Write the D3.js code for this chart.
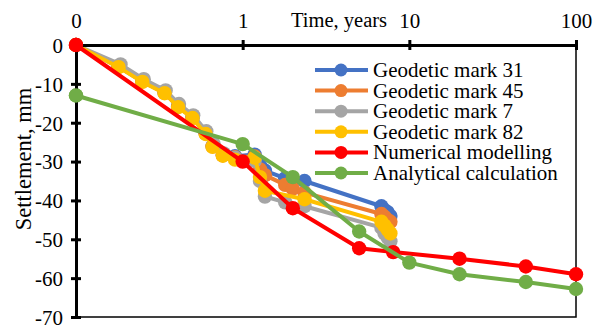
<!DOCTYPE html>
<html>
<head>
<meta charset="utf-8">
<script src="https://cdn.jsdelivr.net/npm/d3@7"></script>
<style>
  body { margin: 0; background: #fff; }
  svg { display: block; }
  svg text { font-family: "Liberation Serif", "Times New Roman", serif !important; fill: #000; }
</style>
</head>
<body>
<svg id="chart" width="598" height="327"></svg>
<script>
// Axis ticks
const xTicks = [0.1, 1, 10, 100];
const xTickLabels = ["0", "1", "10", "100"];
const yTicks = [0, -10, -20, -30, -40, -50, -60, -70];

// Geodetic mark 31
const mark31Time = [0.1, 0.18, 0.25, 0.34, 0.41, 0.5, 0.6, 0.66, 0.76, 0.9, 1.18, 1.27, 1.36, 1.8, 2.0, 2.35, 6.8, 7.1, 7.4, 7.7];
const mark31Value = [0, -5.5, -9.3, -12.2, -15.8, -18.6, -22.7, -26, -28.3, -28.6, -28.2, -31, -32.3, -34.3, -34.8, -35, -41.5, -42.5, -43, -44];
// Geodetic mark 45
const mark45Time = [0.1, 0.18, 0.25, 0.34, 0.41, 0.5, 0.6, 0.66, 0.76, 0.9, 1.18, 1.27, 1.36, 1.8, 2.0, 2.35, 6.8, 7.1, 7.4, 7.7];
const mark45Value = [0, -5.6, -9.4, -12.3, -15.9, -18.7, -22.8, -26.1, -28.4, -28.9, -28.7, -32, -33.5, -36, -37, -38, -43.5, -44.2, -45, -45.5];
// Geodetic mark 7
const mark7Time = [0.1, 0.185, 0.255, 0.345, 0.415, 0.505, 0.605, 0.67, 0.77, 0.9, 1.18, 1.27, 1.36, 1.8, 2.35, 6.8, 7.1, 7.4, 7.7];
const mark7Value = [0, -5.0, -8.8, -11.7, -15.2, -18.1, -22.2, -25.5, -27.9, -29, -29.8, -35, -39, -40.5, -41.5, -47, -48.5, -49.5, -50.5];
// Geodetic mark 82
const mark82Time = [0.1, 0.18, 0.25, 0.34, 0.41, 0.5, 0.6, 0.66, 0.76, 0.9, 1.18, 1.27, 1.36, 2.35, 6.8, 7.1, 7.4, 7.7];
const mark82Value = [0, -5.7, -9.5, -12.4, -16, -18.8, -22.9, -26.2, -28.5, -29.5, -29, -34, -37.5, -39.7, -45.5, -46.5, -47.5, -48.5];
// Numerical modelling
const numericalTime = [0.1, 1, 2, 5, 8, 20, 50, 100];
const numericalValue = [0, -30, -42, -52.3, -53.3, -55, -57, -59];
// Analytical calculation
const analyticalTime = [0.1, 1, 2, 5, 10, 20, 50, 100];
const analyticalValue = [-13, -25.5, -34, -48, -56, -59, -61, -62.8];

const seriesNames = ["Geodetic mark 31", "Geodetic mark 45", "Geodetic mark 7", "Geodetic mark 82", "Numerical modelling", "Analytical calculation"];
const seriesColors = ["#4472C4", "#ED7D31", "#A5A5A5", "#FFC000", "#FF0000", "#70AD47"];
const seriesTimes = [mark31Time, mark45Time, mark7Time, mark82Time, numericalTime, analyticalTime];
const seriesValues = [mark31Value, mark45Value, mark7Value, mark82Value, numericalValue, analyticalValue];

const series = seriesNames.map((name, i) => ({
  name,
  color: seriesColors[i],
  points: seriesTimes[i].map((t, j) => ({ t, v: seriesValues[i][j] }))
}));

const serif = '"Liberation Serif", "Times New Roman", serif';
const labelSize = "21px";
const svg = d3.select("#chart");
const plotLeft = 76, plotRight = 576, plotTop = 45, plotBottom = 317;

const x = d3.scaleLog().domain([0.1, 100]).range([plotLeft, plotRight]);
const y = d3.scaleLinear().domain([0, -70]).range([plotTop, plotBottom]);

// Plot-area frame (right and bottom edges remain visible)
svg.append("rect")
  .attr("x", plotLeft).attr("y", plotTop)
  .attr("width", plotRight - plotLeft).attr("height", plotBottom - plotTop)
  .attr("fill", "none").attr("stroke", "#000").attr("stroke-width", 1.5);

// Lines and markers
const line = d3.line().x(d => x(d.t)).y(d => y(d.v));
const g = svg.append("g");
series.forEach(s => {
  const sg = g.append("g");
  sg.append("path")
    .datum(s.points)
    .attr("d", line)
    .attr("fill", "none")
    .attr("stroke", s.color)
    .attr("stroke-width", 4)
    .attr("stroke-linejoin", "round");
  sg.selectAll("circle")
    .data(s.points)
    .join("circle")
    .attr("cx", d => x(d.t))
    .attr("cy", d => y(d.v))
    .attr("r", 7.2)
    .attr("fill", s.color);
});

// Top time axis with crossing ticks
const xAxis = svg.append("g")
  .attr("transform", `translate(0,${plotTop})`)
  .call(d3.axisTop(x).tickValues(xTicks).tickFormat((d, i) => xTickLabels[i]).tickSizeOuter(0));
xAxis.attr("font-family", serif).attr("font-size", 21);
xAxis.select(".domain").attr("stroke", "#000").attr("stroke-width", 3);
xAxis.selectAll(".tick line").attr("y1", 5).attr("y2", -5).attr("stroke", "#000").attr("stroke-width", 3);
xAxis.selectAll(".tick text").attr("y", -17).attr("dy", 0)
  .style("font-family", serif).style("font-size", labelSize);

// Left settlement axis with crossing ticks
const yAxis = svg.append("g")
  .attr("transform", `translate(${plotLeft},0)`)
  .call(d3.axisLeft(y).tickValues(yTicks).tickFormat(d3.format("d")).tickSizeOuter(0));
yAxis.attr("font-family", serif).attr("font-size", 21);
yAxis.select(".domain").attr("stroke", "#000").attr("stroke-width", 3);
yAxis.selectAll(".tick line").attr("x1", 5).attr("x2", -5).attr("stroke", "#000").attr("stroke-width", 3);
yAxis.selectAll(".tick text").attr("x", -13).attr("dy", "0.35em")
  .style("font-family", serif).style("font-size", labelSize)
  .text(d => d === 0 ? "0" : "-" + Math.abs(d));

// Origin markers drawn above the axes
svg.append("circle").attr("cx", x(numericalTime[0])).attr("cy", y(numericalValue[0])).attr("r", 7.2).attr("fill", seriesColors[4]);
svg.append("circle").attr("cx", x(analyticalTime[0])).attr("cy", y(analyticalValue[0])).attr("r", 7.2).attr("fill", seriesColors[5]);

// Axis titles
svg.append("text")
  .attr("x", 291).attr("y", 27)
  .style("font-family", serif).style("font-size", "20.5px")
  .text("Time, years");

svg.append("text")
  .attr("transform", "translate(31,159) rotate(-90)")
  .attr("text-anchor", "middle")
  .style("font-family", serif).style("font-size", "22.5px")
  .text("Settlement, mm");

// Legend
const legend = svg.append("g");
series.forEach((s, i) => {
  const cy = 70 + i * 20.6;
  legend.append("line")
    .attr("x1", 315).attr("x2", 368).attr("y1", cy).attr("y2", cy)
    .attr("stroke", s.color).attr("stroke-width", 4);
  legend.append("circle").attr("cx", 341).attr("cy", cy).attr("r", 6.5).attr("fill", s.color);
  legend.append("text")
    .attr("x", 373).attr("y", cy + 7)
    .style("font-family", serif).style("font-size", labelSize)
    .text(s.name);
});
</script>
</body>
</html>
